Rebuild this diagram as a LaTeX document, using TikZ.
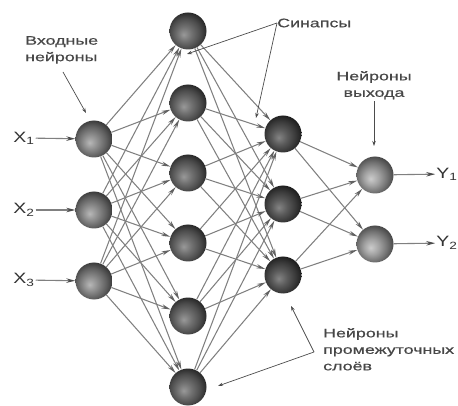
\documentclass[tikz,border=0pt]{standalone}
\usepackage{fontspec}
\setmainfont{Liberation Sans}
\newfontfamily\notefont[FakeStretch=1.45,FakeBold=0.6]{Liberation Sans}
\newfontfamily\varfont[FakeStretch=1.3]{Liberation Sans}
\usetikzlibrary{arrows.meta}

% soft spheres lit from the lower left
\pgfdeclareradialshading{sphin}{\pgfpoint{-6bp}{-5bp}}{%
  color(0bp)=(black!28); color(10bp)=(black!45); color(20bp)=(black!62);
  color(29bp)=(black!80); color(50bp)=(black!80)}
\pgfdeclareradialshading{sphhid}{\pgfpoint{-6bp}{-5bp}}{%
  color(0bp)=(black!40); color(10bp)=(black!56); color(20bp)=(black!70);
  color(29bp)=(black!86); color(50bp)=(black!86)}
\pgfdeclareradialshading{sphhidb}{\pgfpoint{-6bp}{-5bp}}{%
  color(0bp)=(black!48); color(10bp)=(black!64); color(20bp)=(black!77);
  color(29bp)=(black!90); color(50bp)=(black!90)}
\pgfdeclareradialshading{sphout}{\pgfpoint{-6bp}{-5bp}}{%
  color(0bp)=(black!20); color(10bp)=(black!36); color(20bp)=(black!55);
  color(29bp)=(black!74); color(50bp)=(black!74)}

\begin{document}
\begin{tikzpicture}[x=1pt,y=-1pt,
  neuron/.style={circle, minimum size=37pt, inner sep=0pt},
  inneuron/.style={neuron, shading=sphin},
  hidneuron/.style={neuron, shading=sphhid},
  hidneuronb/.style={neuron, shading=sphhidb},
  outneuron/.style={neuron, shading=sphout},
  synapse/.style={draw=black!50, line width=1.05pt,
    -{Stealth[length=9pt,width=4.2pt,color=black!62]}},
  sig/.style={draw=black!50, line width=1.1pt,
    -{Stealth[length=9pt,width=4.5pt,color=black!70]}},
  note/.style={font=\notefont\fontsize{12.3}{16.5}\selectfont, text=black!72, align=left, inner sep=0pt},
  pointer/.style={draw=black!70, line width=0.7pt, -{Stealth[length=5pt,width=3.5pt]}},
  varlabel/.style={font=\varfont\fontsize{15}{16}\selectfont, text=black!80, inner sep=1pt}
]
\useasboundingbox[fill=white] (0,0) rectangle (458,406);

% input layer
\node[inneuron] (i1) at (94,139) {};
\node[inneuron] (i2) at (94,210) {};
\node[inneuron] (i3) at (94,281) {};

% first hidden layer
\foreach \k/\y in {1/31,2/103,3/173,4/243,5/316,6/387}
  \node[hidneuron] (a\k) at (188,\y) {};

% second hidden layer
\foreach \k/\y in {1/134,2/204,3/275}
  \node[hidneuronb] (b\k) at (283,\y) {};

% output layer
\node[outneuron] (o1) at (375,175) {};
\node[outneuron] (o2) at (375,244) {};

% synapses
\foreach \i in {1,2,3}
  \foreach \k in {1,...,6}
    \draw[synapse] (i\i) -- (a\k);
\foreach \k in {1,...,6}
  \foreach \j in {1,2,3}
    \draw[synapse] (a\k) -- (b\j);
\foreach \j in {1,2,3}
  \foreach \m in {1,2}
    \draw[synapse] (b\j) -- (o\m);

% input and output signals
\node[varlabel] (x1) at (24,138) {X\textsubscript{1}};
\node[varlabel] (x2) at (24,210) {X\textsubscript{2}};
\node[varlabel] (x3) at (24,280) {X\textsubscript{3}};
\node[varlabel] (y1) at (447,174) {Y\textsubscript{1}};
\node[varlabel] (y2) at (447,243) {Y\textsubscript{2}};
\foreach \n in {1,2,3}
  \draw[sig] (x\n) -- (i\n);
\draw[sig] (o1) -- (y1);
\draw[sig] (o2) -- (y2);

% annotations
\node[note, anchor=north west] (tin) at (25,36) {Входные\\нейроны};
\coordinate (tinstart) at (63,72);
\coordinate (tinend) at (86,113);
\draw[pointer] (tinstart) -- (tinend);

\node[note, anchor=west] (tsyn) at (277,23) {Синапсы};
\coordinate (syn1) at (187,54);
\coordinate (syn2) at (256,118);
\draw[pointer] (tsyn.west) -- (syn1);
\draw[pointer] (tsyn.west) -- (syn2);

\node[note, align=center, anchor=north] (tout) at (374,71) {Нейроны\\выхода};
\coordinate (toutend) at (374,146);
\draw[pointer] (tout.south) ++(0,2) -- (toutend);

\node[note, anchor=north west] (thid) at (323,328) {Нейроны\\промежуточных\\слоёв};
\coordinate (hidknee) at (314,352);
\coordinate (hid1) at (291,306);
\coordinate (hid2) at (218,386);
\draw[pointer] (hidknee) -- (hid1);
\draw[pointer] (hidknee) -- (hid2);
\end{tikzpicture}
\end{document}
